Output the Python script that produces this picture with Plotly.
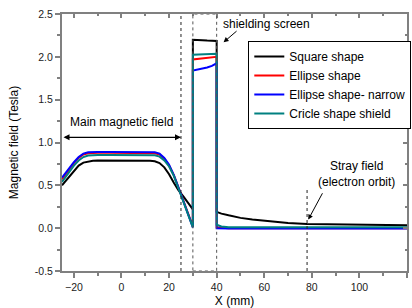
import plotly.graph_objects as go

# ---------------- data ----------------
x_main = [-25, -22, -20, -18, -16, -14, -12, -10, -5, 0, 5, 10, 12, 14, 16, 18, 20, 22, 24, 26, 28, 30]
x_shield = [30, 32, 34, 36, 38, 40]
x_stray = [40, 42, 45, 50, 55, 60, 65, 70, 78, 90, 100, 110, 120]

square_main = [0.50, 0.60, 0.67, 0.73, 0.765, 0.78, 0.787, 0.79, 0.79, 0.79, 0.79, 0.79, 0.787, 0.78, 0.76, 0.71, 0.63, 0.53, 0.44, 0.37, 0.30, 0.22]
square_shield = [2.20, 2.20, 2.195, 2.19, 2.19, 2.185]
square_stray = [0.19, 0.17, 0.15, 0.12, 0.10, 0.085, 0.07, 0.06, 0.05, 0.045, 0.04, 0.037, 0.035]

ellipse_main = [0.57, 0.69, 0.76, 0.82, 0.86, 0.875, 0.88, 0.88, 0.88, 0.88, 0.88, 0.88, 0.88, 0.875, 0.86, 0.81, 0.73, 0.62, 0.47, 0.32, 0.16, 0.02]
ellipse_shield = [1.97, 1.975, 1.98, 1.985, 1.99, 2.0]
ellipse_stray = [0.01, 0.005, 0.0, 0.0, 0.0, 0.0, 0.0, 0.0, 0.0, 0.0, 0.0, 0.0, 0.0]

narrow_main = [0.59, 0.70, 0.77, 0.83, 0.87, 0.885, 0.89, 0.89, 0.89, 0.89, 0.89, 0.89, 0.89, 0.885, 0.87, 0.82, 0.74, 0.62, 0.47, 0.32, 0.16, 0.01]
narrow_shield = [1.84, 1.85, 1.86, 1.875, 1.895, 1.925]
narrow_stray = [0.0, -0.005, -0.005, -0.005, -0.005, -0.005, -0.005, -0.005, -0.005, -0.005, -0.005, -0.005, -0.005]

circle_main = [0.54, 0.66, 0.73, 0.79, 0.83, 0.848, 0.855, 0.855, 0.855, 0.855, 0.855, 0.855, 0.855, 0.85, 0.835, 0.79, 0.72, 0.61, 0.46, 0.31, 0.16, 0.01]
circle_shield = [2.025, 2.027, 2.029, 2.031, 2.033, 2.035]
circle_stray = [0.04, 0.02, 0.01, 0.01, 0.01, 0.01, 0.01, 0.01, 0.01, 0.01, 0.01, 0.01, 0.01]

series_names = ["Square shape", "Ellipse shape", "Ellipse shape- narrow", "Cricle shape shield"]
series_colors = ["#000000", "#ff0000", "#0000ff", "#008080"]

x_ticks = [-20, 0, 20, 40, 60, 80, 100, 120]
y_ticks = [-0.5, 0.0, 0.5, 1.0, 1.5, 2.0, 2.5]
y_ticklabels = ["-0.5", "0.0", "0.5", "1.0", "1.5", "2.0", "2.5"]

X_RANGE = [-25, 120]
Y_RANGE = [-0.5, 2.5]

# ---------------- figure ----------------
fig = go.Figure()
all_series = [
    (square_main, square_shield, square_stray),
    (ellipse_main, ellipse_shield, ellipse_stray),
    (narrow_main, narrow_shield, narrow_stray),
    (circle_main, circle_shield, circle_stray),
]
for name, color, (m, s, st) in zip(series_names, series_colors, all_series):
    xs = x_main + x_shield + x_stray
    ys = m + s + st
    fig.add_trace(go.Scatter(x=xs, y=ys, mode="lines", name=name,
                             line=dict(color=color, width=2), hoverinfo="skip"))

FONT = "Arial, Liberation Sans, sans-serif"
axis_common = dict(showgrid=False, zeroline=False, linecolor="#808080", linewidth=2,
                   ticks="outside", ticklen=5, tickwidth=1.5, tickcolor="#808080",
                   automargin=False,
                   tickfont=dict(family=FONT, size=10.5, color="#222"))
mirror_common = dict(showgrid=False, zeroline=False, linecolor="#808080", linewidth=2,
                     showticklabels=False, automargin=False,
                     ticks="inside", ticklen=4, tickwidth=1.5, tickcolor="#808080")

fig.update_layout(
    width=412, height=308,
    margin=dict(l=62, r=5, t=14, b=37, autoexpand=False),
    plot_bgcolor="white", paper_bgcolor="white",
    font=dict(family=FONT, size=12, color="#000"),
    xaxis=dict(range=X_RANGE, tickvals=x_ticks, **axis_common,
               minor=dict(dtick=10, tick0=0, ticks="outside", ticklen=3, tickcolor="#808080"),
               title=dict(text="X (mm)", font=dict(family=FONT, size=12), standoff=5)),
    yaxis=dict(range=Y_RANGE, tickvals=y_ticks, ticktext=y_ticklabels, **axis_common,
               minor=dict(dtick=0.25, tick0=0, ticks="outside", ticklen=3, tickcolor="#808080"),
               title=dict(text="Magnetic field (Tesla)", font=dict(family=FONT, size=12), standoff=14)),
    xaxis2=dict(range=X_RANGE, overlaying="x", side="top", tickvals=x_ticks, **mirror_common,
                minor=dict(dtick=10, tick0=0, ticks="inside", ticklen=2, tickcolor="#808080")),
    yaxis2=dict(range=Y_RANGE, overlaying="y", side="right", tickvals=y_ticks, **mirror_common,
                minor=dict(dtick=0.25, tick0=0, ticks="inside", ticklen=2, tickcolor="#808080")),
    legend=dict(x=0.54, y=0.895, xanchor="left", yanchor="top",
                bgcolor="white", bordercolor="black", borderwidth=1,
                font=dict(family=FONT, size=12), itemwidth=30, tracegroupgap=0),
    showlegend=True,
)
# invisible trace so the mirror axes are drawn
fig.add_trace(go.Scatter(x=[None], y=[None], xaxis="x2", yaxis="y2", showlegend=False, hoverinfo="skip"))

# vertical reference lines
line_style = dict(color="#222", width=1, dash="dot")
fig.add_shape(type="line", xref="x", yref="y", x0=25, x1=25, y0=Y_RANGE[0], y1=Y_RANGE[1], line=line_style)
fig.add_shape(type="rect", xref="x", yref="y", x0=30, x1=40, y0=Y_RANGE[0], y1=Y_RANGE[1], line=dict(color="#555", width=1, dash="dot"))
fig.add_shape(type="line", xref="x", yref="y", x0=78, x1=78, y0=Y_RANGE[0], y1=0.48, line=line_style)

# annotations
fig.add_annotation(x=0, y=1.24, xref="x", yref="y", text="Main magnetic field", showarrow=False,
                   font=dict(family=FONT, size=12))
fig.add_annotation(x=25, y=1.06, ax=-25, ay=1.06, xref="x", yref="y", axref="x", ayref="y",
                   text="", showarrow=True, arrowhead=2, startarrowhead=2, arrowside="end+start",
                   arrowsize=1, arrowwidth=1.2, arrowcolor="#000")
fig.add_annotation(x=61, y=2.38, xref="x", yref="y", text="shielding screen", showarrow=False,
                   font=dict(family=FONT, size=12))
fig.add_annotation(x=42.9, y=2.17, ax=49.0, ay=2.315, xref="x", yref="y", axref="x", ayref="y",
                   text="", showarrow=True, arrowhead=2, arrowsize=1, arrowwidth=1, arrowcolor="#000")
fig.add_annotation(x=98.8, y=0.634, xref="x", yref="y", text="Stray field<br>(electron orbit)",
                   showarrow=False, font=dict(family=FONT, size=12))
fig.add_annotation(x=78.5, y=0.10, ax=84.8, ay=0.425, xref="x", yref="y", axref="x", ayref="y",
                   text="", showarrow=True, arrowhead=2, arrowsize=1, arrowwidth=1, arrowcolor="#000")

fig.write_html("out.html", config={"displayModeBar": False},
               post_script="document.body.style.margin='0';document.body.style.padding='0';")
